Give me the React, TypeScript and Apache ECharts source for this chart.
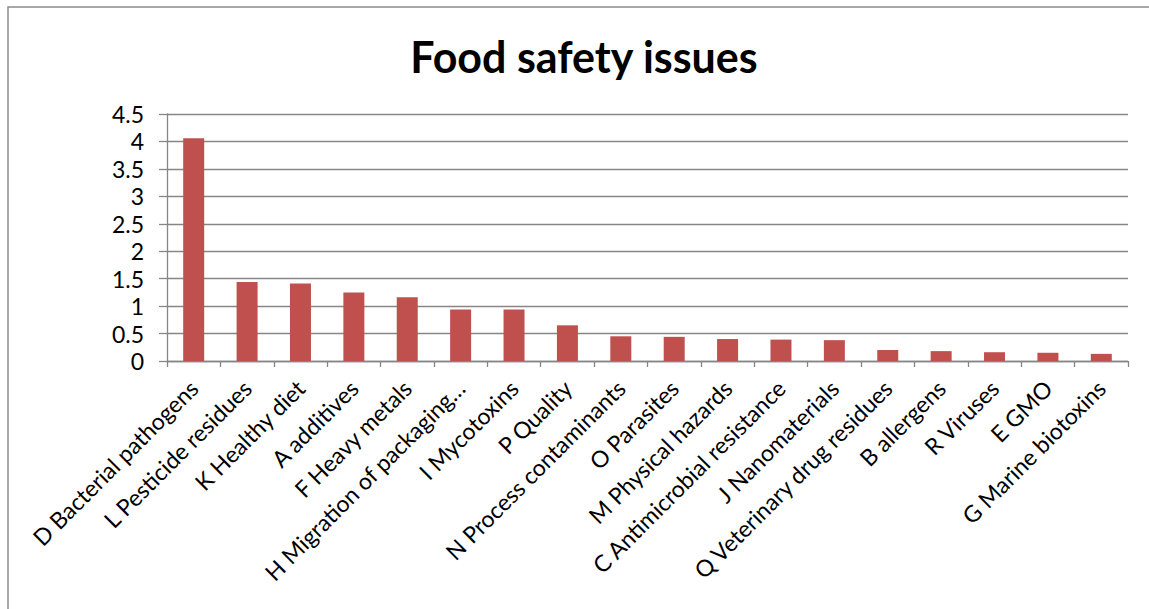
import React, { useEffect, useRef } from "react";
import * as echarts from "echarts";

const categories: string[] = [
  "D Bacterial pathogens",
  "L Pesticide residues",
  "K Healthy diet",
  "A additives",
  "F Heavy metals",
  "H Migration of packaging…",
  "I Mycotoxins",
  "P Quality",
  "N Process contaminants",
  "O Parasites",
  "M Physical hazards",
  "C Antimicrobial resistance",
  "J Nanomaterials",
  "Q Veterinary drug residues",
  "B allergens",
  "R Viruses",
  "E GMO",
  "G Marine biotoxins",
];

const values: number[] = [
  4.06, 1.44, 1.41, 1.25, 1.16, 0.94, 0.94, 0.65, 0.45, 0.44, 0.4, 0.39, 0.38,
  0.2, 0.18, 0.16, 0.15, 0.13,
];

const yTicks: number[] = [0, 0.5, 1, 1.5, 2, 2.5, 3, 3.5, 4, 4.5];

const FONT = "Lato, 'Liberation Sans', sans-serif";

export default function App() {
  const ref = useRef<HTMLDivElement>(null);
  useEffect(() => {
    if (!ref.current) return;
    const chart = echarts.init(ref.current, undefined, { renderer: "svg" });
    chart.setOption({
      animation: false,
      backgroundColor: "#ffffff",
      title: {
        text: "Food safety issues",
        left: 579,
        top: 30,
        textAlign: "center",
        textStyle: {
          fontFamily: FONT,
          fontWeight: "bold",
          fontSize: 43,
          color: "#000000",
        },
      },
      graphic: [
        {
          type: "rect",
          shape: { x: 8, y: 7, width: 1200, height: 700 },
          style: { fill: "none", stroke: "#8c8c8c", lineWidth: 1.5 },
          silent: true,
        },
      ],
      grid: { left: 167, right: 21, top: 114, bottom: 248 },
      xAxis: {
        type: "category",
        data: categories,
        boundaryGap: true,
        axisLine: { show: true, lineStyle: { color: "#868686", width: 1.3 } },
        axisTick: {
          show: true,
          alignWithLabel: false,
          length: 6,
          lineStyle: { color: "#868686", width: 1.3 },
        },
        axisLabel: {
          interval: 0,
          rotate: 45,
          margin: 23,
          fontFamily: FONT,
          fontSize: 23,
          color: "#000000",
        },
      },
      yAxis: {
        type: "value",
        min: yTicks[0],
        max: yTicks[yTicks.length - 1],
        interval: 0.5,
        axisLine: { show: true, lineStyle: { color: "#868686", width: 1.3 } },
        axisTick: { show: true, length: 8, lineStyle: { color: "#868686", width: 1.3 } },
        splitLine: { show: true, lineStyle: { color: "#868686", width: 1.3 } },
        axisLabel: {
          margin: 23,
          fontFamily: FONT,
          fontSize: 23,
          color: "#000000",
          formatter: (v: number) => String(v),
        },
      },
      series: [
        {
          type: "bar",
          data: values,
          barWidth: 21,
          itemStyle: { color: "#C0504D" },
        },
      ],
    });
    return () => chart.dispose();
  }, []);
  return (
    <div
      ref={ref}
      style={{ position: "absolute", left: 0, top: 0, width: 1149, height: 609 }}
    />
  );
}
